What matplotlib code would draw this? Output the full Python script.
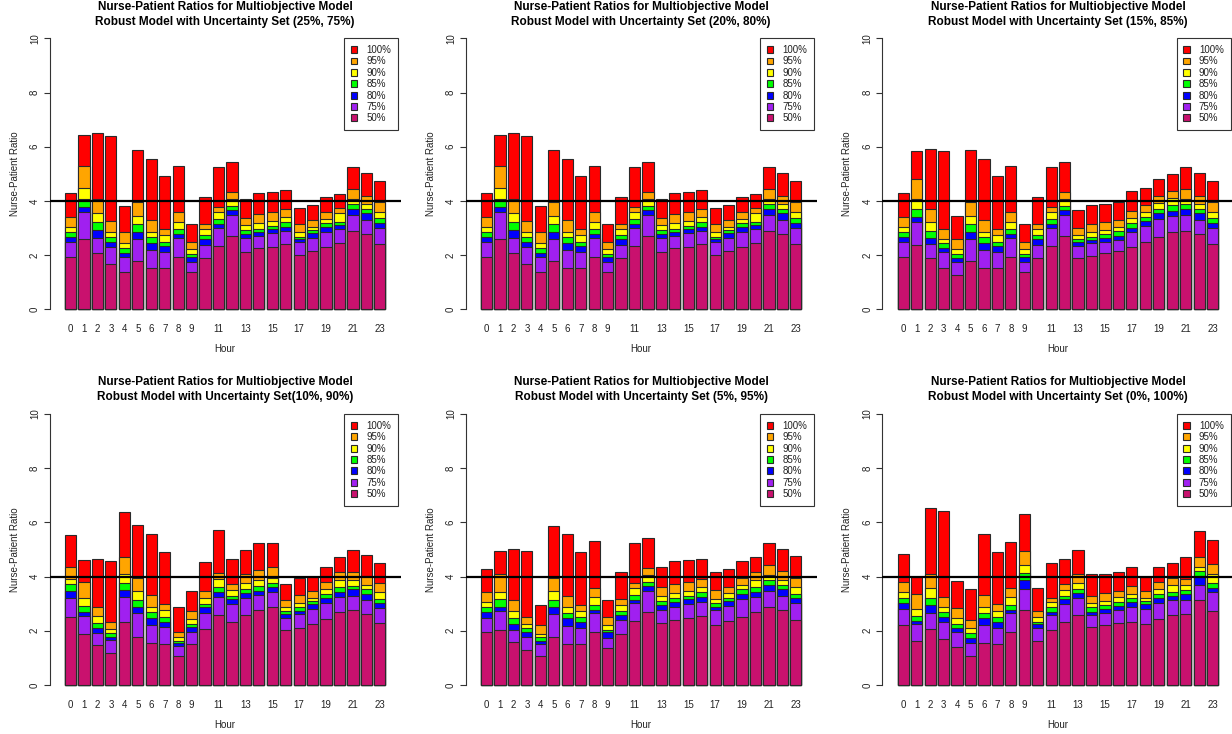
import numpy as np
import matplotlib
matplotlib.use("Agg")
import matplotlib.pyplot as plt
from matplotlib.patches import Patch

plt.rcParams['font.family'] = ['Liberation Sans', 'DejaVu Sans']

hours = list(range(24))
# R's barplot drops labels that would overlap, so only some are shown
hour_labels = ['0', '1', '2', '3', '4', '5', '6', '7', '8', '9', '', '11', '', '13',
               '', '15', '', '17', '', '19', '', '21', '', '23']
levels = ['100%', '95%', '90%', '85%', '80%', '75%', '50%']
level_colors = ['#FF0000', '#FFA500', '#FFFF00', '#00FF00', '#0000FF', '#A020F0', '#C9116E']

# each row is one percentile level (100% ... 50%), 24 hourly ratios
set_25_75 = [
    [4.28, 6.43, 6.49, 6.41, 3.81, 5.88, 5.56, 4.91, 5.30, 3.15, 4.16, 5.24, 5.42, 4.08, 4.28, 4.32, 4.39, 3.73, 3.83, 4.13, 4.26, 5.24, 5.02, 4.75],
    [3.39, 5.30, 4.06, 3.26, 2.84, 3.95, 3.28, 2.95, 3.58, 2.50, 3.16, 3.76, 4.31, 3.36, 3.51, 3.59, 3.70, 3.15, 3.30, 3.60, 3.75, 4.44, 4.19, 3.95],
    [3.05, 4.47, 3.54, 2.87, 2.44, 3.46, 2.87, 2.73, 3.23, 2.23, 2.95, 3.58, 4.07, 3.10, 3.17, 3.26, 3.42, 2.87, 3.05, 3.35, 3.54, 4.07, 3.89, 3.60],
    [2.87, 4.06, 3.21, 2.68, 2.25, 3.15, 2.66, 2.50, 2.95, 2.04, 2.73, 3.32, 3.81, 2.93, 2.98, 3.09, 3.23, 2.68, 2.93, 3.17, 3.23, 3.87, 3.70, 3.36],
    [2.68, 3.76, 2.93, 2.48, 2.09, 2.87, 2.46, 2.32, 2.77, 1.94, 2.58, 3.14, 3.67, 2.79, 2.84, 2.95, 3.05, 2.58, 2.80, 3.03, 3.10, 3.69, 3.54, 3.20],
    [2.47, 3.58, 2.64, 2.31, 1.94, 2.61, 2.19, 2.10, 2.64, 1.75, 2.39, 3.01, 3.48, 2.64, 2.71, 2.83, 2.90, 2.47, 2.64, 2.87, 2.95, 3.48, 3.30, 3.01],
    [1.94, 2.61, 2.07, 1.66, 1.37, 1.77, 1.51, 1.51, 1.94, 1.37, 1.88, 2.35, 2.69, 2.12, 2.25, 2.31, 2.40, 1.99, 2.14, 2.29, 2.46, 2.88, 2.76, 2.40],
]
set_20_80 = [
    [4.28, 6.43, 6.49, 6.41, 3.81, 5.88, 5.56, 4.91, 5.30, 3.15, 4.16, 5.24, 5.42, 4.08, 4.28, 4.32, 4.39, 3.73, 3.83, 4.13, 4.26, 5.24, 5.02, 4.75],
    [3.39, 5.30, 4.06, 3.26, 2.84, 3.95, 3.28, 2.95, 3.58, 2.50, 3.16, 3.76, 4.31, 3.36, 3.51, 3.59, 3.70, 3.15, 3.30, 3.60, 3.75, 4.44, 4.19, 3.95],
    [3.05, 4.47, 3.54, 2.87, 2.44, 3.46, 2.87, 2.73, 3.23, 2.23, 2.95, 3.58, 4.07, 3.10, 3.17, 3.26, 3.42, 2.87, 3.05, 3.35, 3.54, 4.07, 3.89, 3.60],
    [2.87, 4.06, 3.21, 2.68, 2.25, 3.15, 2.66, 2.50, 2.95, 2.04, 2.73, 3.32, 3.81, 2.93, 2.98, 3.09, 3.23, 2.68, 2.93, 3.17, 3.23, 3.87, 3.70, 3.36],
    [2.68, 3.76, 2.93, 2.48, 2.09, 2.87, 2.46, 2.32, 2.77, 1.94, 2.58, 3.14, 3.67, 2.79, 2.84, 2.95, 3.05, 2.58, 2.80, 3.03, 3.10, 3.69, 3.54, 3.20],
    [2.47, 3.58, 2.64, 2.31, 1.94, 2.61, 2.19, 2.10, 2.64, 1.75, 2.39, 3.01, 3.48, 2.64, 2.71, 2.83, 2.90, 2.47, 2.64, 2.87, 2.95, 3.48, 3.30, 3.01],
    [1.94, 2.61, 2.07, 1.66, 1.37, 1.77, 1.51, 1.51, 1.94, 1.37, 1.88, 2.35, 2.69, 2.12, 2.25, 2.31, 2.40, 1.99, 2.14, 2.29, 2.46, 2.88, 2.76, 2.40],
]
set_15_85 = [
    [4.28, 5.85, 5.90, 5.84, 3.46, 5.88, 5.56, 4.91, 5.30, 3.15, 4.16, 5.24, 5.42, 3.65, 3.83, 3.87, 3.95, 4.37, 4.47, 4.81, 4.98, 5.24, 5.02, 4.75],
    [3.39, 4.81, 3.69, 2.95, 2.58, 3.95, 3.28, 2.95, 3.58, 2.50, 3.16, 3.76, 4.31, 3.01, 3.14, 3.21, 3.30, 3.64, 3.83, 4.19, 4.38, 4.44, 4.19, 3.95],
    [3.05, 4.07, 3.23, 2.60, 2.23, 3.46, 2.87, 2.73, 3.23, 2.23, 2.95, 3.58, 4.07, 2.74, 2.87, 2.93, 3.05, 3.36, 3.58, 3.91, 4.12, 4.07, 3.89, 3.60],
    [2.87, 3.70, 2.90, 2.44, 2.03, 3.15, 2.66, 2.50, 2.95, 2.04, 2.73, 3.32, 3.81, 2.60, 2.68, 2.77, 2.89, 3.17, 3.39, 3.70, 3.83, 3.87, 3.70, 3.36],
    [2.68, 3.42, 2.64, 2.25, 1.91, 2.87, 2.46, 2.32, 2.77, 1.94, 2.58, 3.14, 3.67, 2.50, 2.56, 2.64, 2.72, 3.01, 3.27, 3.54, 3.64, 3.69, 3.54, 3.20],
    [2.47, 3.23, 2.40, 2.10, 1.76, 2.61, 2.19, 2.10, 2.64, 1.75, 2.39, 3.01, 3.48, 2.34, 2.44, 2.48, 2.57, 2.87, 3.09, 3.33, 3.46, 3.48, 3.30, 3.01],
    [1.94, 2.37, 1.88, 1.51, 1.27, 1.77, 1.51, 1.51, 1.94, 1.37, 1.88, 2.35, 2.69, 1.91, 1.98, 2.09, 2.14, 2.31, 2.47, 2.68, 2.84, 2.88, 2.76, 2.40],
]
set_10_90 = [
    [5.52, 4.60, 4.64, 4.58, 6.37, 5.89, 5.58, 4.92, 2.88, 3.47, 4.53, 5.71, 4.65, 4.97, 5.23, 5.23, 3.71, 3.94, 4.00, 4.34, 4.71, 4.97, 4.78, 4.49],
    [4.35, 3.81, 2.89, 2.31, 4.74, 3.94, 3.31, 2.98, 1.96, 2.73, 3.47, 4.12, 3.71, 4.11, 4.23, 4.37, 3.14, 3.31, 3.47, 3.81, 4.16, 4.18, 4.02, 3.75],
    [3.91, 3.20, 2.55, 2.05, 4.10, 3.47, 2.89, 2.77, 1.76, 2.44, 3.20, 3.90, 3.51, 3.75, 3.87, 3.94, 2.89, 3.04, 3.22, 3.54, 3.87, 3.87, 3.69, 3.44],
    [3.71, 2.92, 2.30, 1.93, 3.75, 3.14, 2.68, 2.52, 1.64, 2.25, 2.99, 3.60, 3.28, 3.54, 3.65, 3.75, 2.74, 2.87, 3.10, 3.36, 3.60, 3.67, 3.53, 3.16],
    [3.48, 2.71, 2.09, 1.78, 3.51, 2.87, 2.46, 2.34, 1.54, 2.13, 2.87, 3.42, 3.16, 3.41, 3.48, 3.60, 2.61, 2.74, 2.98, 3.22, 3.44, 3.53, 3.36, 3.04],
    [3.20, 2.56, 1.91, 1.66, 3.26, 2.64, 2.21, 2.13, 1.44, 1.94, 2.64, 3.26, 2.98, 3.22, 3.32, 3.42, 2.48, 2.62, 2.79, 3.04, 3.26, 3.30, 3.14, 2.85],
    [2.52, 1.87, 1.48, 1.19, 2.31, 1.76, 1.54, 1.50, 1.08, 1.50, 2.05, 2.58, 2.31, 2.58, 2.76, 2.87, 2.03, 2.09, 2.24, 2.44, 2.71, 2.76, 2.61, 2.30],
]
set_5_95 = [
    [4.28, 4.94, 5.01, 4.94, 2.94, 5.88, 5.56, 4.91, 5.30, 3.15, 4.16, 5.24, 5.42, 4.34, 4.58, 4.60, 4.66, 4.16, 4.28, 4.58, 4.71, 5.24, 5.02, 4.75],
    [3.42, 4.10, 3.14, 2.51, 2.20, 3.95, 3.28, 2.95, 3.58, 2.50, 3.16, 3.76, 4.31, 3.60, 3.71, 3.81, 3.91, 3.51, 3.63, 3.94, 4.16, 4.44, 4.19, 3.95],
    [3.08, 3.42, 2.74, 2.25, 1.88, 3.46, 2.87, 2.73, 3.23, 2.23, 2.95, 3.58, 4.07, 3.30, 3.38, 3.47, 3.63, 3.16, 3.41, 3.69, 3.87, 4.07, 3.89, 3.60],
    [2.89, 3.16, 2.48, 2.09, 1.76, 3.15, 2.66, 2.50, 2.95, 2.04, 2.73, 3.32, 3.81, 3.10, 3.20, 3.28, 3.44, 3.01, 3.22, 3.53, 3.60, 3.87, 3.70, 3.36],
    [2.68, 2.89, 2.24, 1.94, 1.62, 2.87, 2.46, 2.32, 2.77, 1.94, 2.58, 3.14, 3.67, 2.95, 3.05, 3.16, 3.26, 2.87, 3.10, 3.36, 3.44, 3.69, 3.54, 3.20],
    [2.46, 2.74, 2.03, 1.78, 1.50, 2.61, 2.19, 2.10, 2.64, 1.75, 2.39, 3.01, 3.48, 2.77, 2.89, 2.99, 3.08, 2.77, 2.93, 3.17, 3.26, 3.48, 3.30, 3.01],
    [1.97, 2.03, 1.57, 1.29, 1.08, 1.77, 1.51, 1.51, 1.94, 1.37, 1.88, 2.35, 2.69, 2.28, 2.40, 2.48, 2.56, 2.21, 2.37, 2.52, 2.71, 2.88, 2.76, 2.40],
]
set_0_100 = [
    [4.82, 4.00, 6.52, 6.42, 3.84, 3.54, 5.58, 4.92, 5.29, 6.32, 3.57, 4.49, 4.65, 4.97, 4.08, 4.08, 4.16, 4.37, 4.00, 4.34, 4.49, 4.74, 5.69, 5.34],
    [3.81, 3.35, 4.08, 3.23, 2.83, 2.40, 3.31, 2.98, 3.58, 4.96, 2.73, 3.22, 3.71, 4.11, 3.30, 3.38, 3.48, 3.67, 3.47, 3.81, 3.94, 3.90, 4.71, 4.45],
    [3.44, 2.80, 3.57, 2.87, 2.46, 2.09, 2.87, 2.73, 3.23, 4.43, 2.50, 3.05, 3.51, 3.75, 3.01, 3.10, 3.23, 3.36, 3.22, 3.54, 3.69, 3.69, 4.37, 4.08],
    [3.22, 2.56, 3.22, 2.68, 2.25, 1.91, 2.67, 2.50, 2.95, 4.12, 2.34, 2.87, 3.28, 3.54, 2.87, 2.95, 3.05, 3.20, 3.10, 3.36, 3.42, 3.51, 4.21, 3.75],
    [3.04, 2.36, 2.95, 2.50, 2.09, 1.72, 2.46, 2.32, 2.77, 3.87, 2.24, 2.68, 3.16, 3.41, 2.71, 2.80, 2.92, 3.05, 2.98, 3.22, 3.30, 3.36, 4.03, 3.57],
    [2.79, 2.24, 2.67, 2.31, 1.94, 1.56, 2.21, 2.10, 2.64, 3.55, 2.09, 2.58, 2.98, 3.22, 2.58, 2.67, 2.77, 2.89, 2.79, 3.04, 3.14, 3.14, 3.69, 3.42],
    [2.21, 1.64, 2.05, 1.69, 1.39, 1.08, 1.54, 1.51, 1.94, 2.77, 1.64, 2.03, 2.31, 2.58, 2.15, 2.21, 2.28, 2.31, 2.24, 2.44, 2.58, 2.62, 3.14, 2.73],
]

titles = [
    "Nurse-Patient Ratios for Multiobjective Model\nRobust Model with Uncertainty Set (25%, 75%)",
    "Nurse-Patient Ratios for Multiobjective Model\nRobust Model with Uncertainty Set (20%, 80%)",
    "Nurse-Patient Ratios for Multiobjective Model\nRobust Model with Uncertainty Set (15%, 85%)",
    "Nurse-Patient Ratios for Multiobjective Model\nRobust Model with Uncertainty Set(10%, 90%)",
    "Nurse-Patient Ratios for Multiobjective Model\nRobust Model with Uncertainty Set (5%, 95%)",
    "Nurse-Patient Ratios for Multiobjective Model\nRobust Model with Uncertainty Set (0%, 100%)",
]
panels = [set_25_75, set_20_80, set_15_85, set_10_90, set_5_95, set_0_100]
target_ratio = 4

W, H = 1232, 734
fig = plt.figure(figsize=(W / 100, H / 100), dpi=100)

col_left = [49.7, 465.7, 882.4]   # pixel positions of each column
row_bottom = [320.1, 695.8]       # from top
ax_w, ax_h = 351.0, 292.6

# bar centres like barplot(space=0.2)
xpos = 0.7 + 1.2 * np.arange(len(hours))

for k, (data, title) in enumerate(zip(panels, titles)):
    r, c = divmod(k, 3)
    ax = fig.add_axes([col_left[c] / W, (H - row_bottom[r]) / H, ax_w / W, ax_h / H])

    # overlaid bars, tallest level first
    for vals, col in zip(data, level_colors):
        ax.bar(xpos, vals, width=1.0, color=col, edgecolor='#2a2a2a', linewidth=0.8, zorder=2)

    ax.axhline(target_ratio, color='black', linewidth=1.6, zorder=3)

    ax.set_xlim(-1.16, 30.16)
    ax.set_ylim(-0.4, 10.4)
    for s in ['top', 'right', 'bottom']:
        ax.spines[s].set_visible(False)
    ax.spines['left'].set_bounds(0, 10)
    ax.spines['left'].set_color('#333333')
    ax.spines['left'].set_linewidth(0.8)

    ax.set_yticks([0, 2, 4, 6, 8, 10])
    ax.tick_params(axis='y', length=4, width=0.8, color='#333333', pad=3,
                   labelsize=7, labelcolor='#222222', labelrotation=90)
    for lbl in ax.get_yticklabels():
        lbl.set_va('center')
    ax.set_xticks(xpos)
    ax.set_xticklabels(hour_labels)
    ax.tick_params(axis='x', length=0, pad=3, labelsize=7, labelcolor='#222222')

    ax.set_xlabel('Hour', fontsize=7, color='#222222', va='center')
    ax.xaxis.set_label_coords(0.5, -0.1)
    ax.set_ylabel('Nurse-Patient Ratio', fontsize=7, color='#222222', va='center')
    ax.yaxis.set_label_coords(-0.1, 0.5)

    ax.set_title(title, fontsize=8.5, fontweight='bold', linespacing=1.32, pad=-1.7)

    handles = [Patch(facecolor=col, edgecolor='#2a2a2a', linewidth=0.8) for col in level_colors]
    leg = ax.legend(handles, levels, loc='upper right', bbox_to_anchor=(0.992, 0.963),
                    borderaxespad=0, fontsize=7, labelspacing=0.14, handlelength=0.7,
                    handleheight=0.7, handletextpad=0.9, borderpad=0.7,
                    fancybox=False, framealpha=1, edgecolor='#333333')
    leg.get_frame().set_linewidth(0.8)
    for t in leg.get_texts():
        t.set_color('#222222')

fig.savefig('out.png', dpi=100)
